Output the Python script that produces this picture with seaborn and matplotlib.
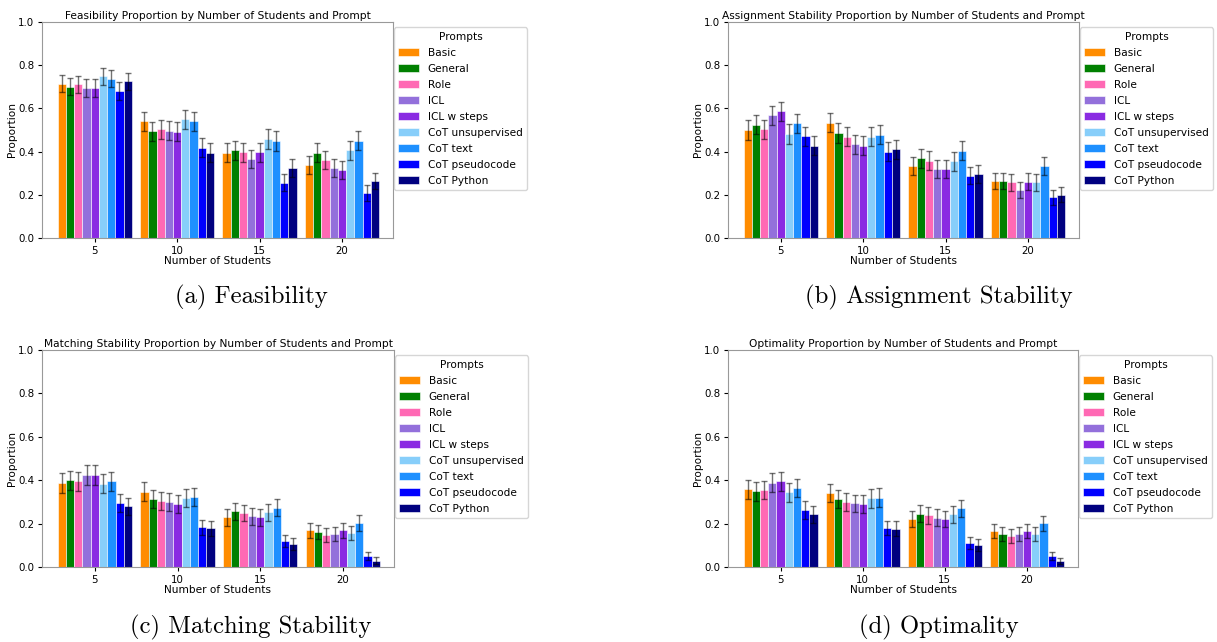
import numpy as np
import pandas as pd
import matplotlib
matplotlib.use('Agg')
import matplotlib.pyplot as plt
import seaborn as sns

students = [5, 10, 15, 20]
prompts = ['Basic', 'General', 'Role', 'ICL', 'ICL w steps',
           'CoT unsupervised', 'CoT text', 'CoT pseudocode', 'CoT Python']
colors = ['#FF8C00', '#008000', '#FF69B4', '#9370DB', '#8A2BE2',
          '#87CEFA', '#1E90FF', '#0000FF', '#000080']

# one row per number of students, one value per prompt
feasibility = [
    [0.715, 0.701, 0.711, 0.696, 0.696, 0.748, 0.737, 0.681, 0.725],
    [0.540, 0.494, 0.503, 0.497, 0.493, 0.549, 0.540, 0.417, 0.394],
    [0.395, 0.407, 0.398, 0.366, 0.398, 0.458, 0.449, 0.255, 0.326],
    [0.338, 0.395, 0.361, 0.326, 0.316, 0.407, 0.451, 0.208, 0.264],
]
feasibility_err = [
    [0.041, 0.041, 0.041, 0.041, 0.041, 0.039, 0.040, 0.042, 0.040],
    [0.045, 0.045, 0.045, 0.045, 0.045, 0.045, 0.045, 0.044, 0.044],
    [0.044, 0.044, 0.044, 0.043, 0.044, 0.045, 0.045, 0.039, 0.042],
    [0.042, 0.044, 0.043, 0.042, 0.042, 0.044, 0.045, 0.036, 0.039],
]
assignment = [
    [0.500, 0.525, 0.503, 0.568, 0.586, 0.481, 0.531, 0.471, 0.426],
    [0.534, 0.486, 0.469, 0.435, 0.426, 0.469, 0.478, 0.400, 0.410],
    [0.335, 0.369, 0.358, 0.319, 0.319, 0.355, 0.403, 0.289, 0.295],
    [0.264, 0.264, 0.258, 0.224, 0.261, 0.258, 0.333, 0.188, 0.201],
]
assignment_err = [
    [0.045, 0.045, 0.045, 0.044, 0.044, 0.045, 0.045, 0.045, 0.044],
    [0.045, 0.045, 0.045, 0.044, 0.044, 0.045, 0.045, 0.044, 0.044],
    [0.042, 0.043, 0.043, 0.042, 0.042, 0.043, 0.044, 0.041, 0.041],
    [0.039, 0.039, 0.039, 0.037, 0.039, 0.039, 0.042, 0.035, 0.036],
]
matching = [
    [0.387, 0.399, 0.396, 0.424, 0.424, 0.384, 0.396, 0.296, 0.280],
    [0.347, 0.313, 0.303, 0.300, 0.289, 0.318, 0.323, 0.183, 0.178],
    [0.229, 0.257, 0.249, 0.233, 0.229, 0.253, 0.273, 0.120, 0.106],
    [0.169, 0.160, 0.149, 0.152, 0.169, 0.155, 0.204, 0.049, 0.029],
]
matching_err = [
    [0.044, 0.044, 0.044, 0.044, 0.044, 0.044, 0.044, 0.041, 0.040],
    [0.043, 0.042, 0.041, 0.041, 0.041, 0.042, 0.042, 0.035, 0.034],
    [0.038, 0.039, 0.039, 0.038, 0.038, 0.039, 0.040, 0.029, 0.028],
    [0.034, 0.033, 0.032, 0.032, 0.034, 0.032, 0.036, 0.019, 0.015],
]
optimality = [
    [0.358, 0.349, 0.355, 0.389, 0.396, 0.344, 0.364, 0.263, 0.243],
    [0.341, 0.312, 0.300, 0.293, 0.289, 0.316, 0.320, 0.180, 0.177],
    [0.223, 0.246, 0.238, 0.227, 0.221, 0.244, 0.270, 0.111, 0.100],
    [0.166, 0.154, 0.143, 0.151, 0.166, 0.154, 0.201, 0.049, 0.028],
]
optimality_err = [
    [0.043, 0.043, 0.043, 0.044, 0.044, 0.043, 0.043, 0.040, 0.038],
    [0.043, 0.042, 0.041, 0.041, 0.041, 0.042, 0.042, 0.034, 0.034],
    [0.037, 0.039, 0.038, 0.038, 0.037, 0.039, 0.040, 0.028, 0.027],
    [0.033, 0.032, 0.031, 0.032, 0.033, 0.032, 0.036, 0.019, 0.015],
]

panels = [
    ('Feasibility', feasibility, feasibility_err, '(a) Feasibility'),
    ('Assignment Stability', assignment, assignment_err, '(b) Assignment Stability'),
    ('Matching Stability', matching, matching_err, '(c) Matching Stability'),
    ('Optimality', optimality, optimality_err, '(d) Optimality'),
]

W, H = 1217, 642
# axes boxes in pixels: left, top, right, bottom
boxes = [(42, 22, 393, 238), (728, 22, 1079, 238),
         (42, 350, 394, 567), (728, 350, 1078, 567)]
captions_xy = [(251, 297), (939, 297), (251, 627), (939, 627)]

fig = plt.figure(figsize=(W / 100, H / 100), dpi=100)

for (name, vals, errs, caption), (l, t, r, b), (cx, cy) in zip(panels, boxes, captions_xy):
    ax = fig.add_axes([l / W, 1 - b / H, (r - l) / W, (b - t) / H])
    rows = []
    for i, s in enumerate(students):
        for j, p in enumerate(prompts):
            rows.append({'students': s, 'prompt': p, 'proportion': vals[i][j]})
    df = pd.DataFrame(rows)
    sns.barplot(data=df, x='students', y='proportion', hue='prompt',
                hue_order=prompts, palette=colors, width=0.9, saturation=1,
                errorbar=None, edgecolor='white', linewidth=0.4, ax=ax)
    # error bars on top of each bar
    bar_groups = list(ax.containers)
    for j, cont in enumerate(bar_groups):
        for i, bar in enumerate(cont):
            ax.errorbar(bar.get_x() + bar.get_width() / 2, bar.get_height(),
                        yerr=errs[i][j], color='black', alpha=0.55,
                        lw=1, capsize=2, capthick=1)
    ax.set_ylim(0, 1.0)
    ax.set_xlim(-0.64, 3.62)
    ax.set_yticks(np.arange(0, 1.01, 0.2))
    ax.tick_params(labelsize=7.4, colors='black', length=3, pad=2.5)
    ax.set_title(f'{name} Proportion by Number of Students and Prompt',
                 fontsize=7.7, pad=2)
    ax.set_xlabel('Number of Students', fontsize=7.6, labelpad=0)
    ax.set_ylabel('Proportion', fontsize=7.6, labelpad=1)
    for sp in ax.spines.values():
        sp.set_color('#999999')
    sns.move_legend(ax, 'upper left', bbox_to_anchor=(1.003, 0.975),
                    borderaxespad=0, title='Prompts', fontsize=7.6,
                    title_fontsize=7.6, frameon=True, handlelength=2.0,
                    labelspacing=0.57)
    fig.text(cx / W, 1 - cy / H, caption, family='cmr10', fontsize=17.8,
             ha='center', va='center')

fig.savefig('out.png', dpi=100)
